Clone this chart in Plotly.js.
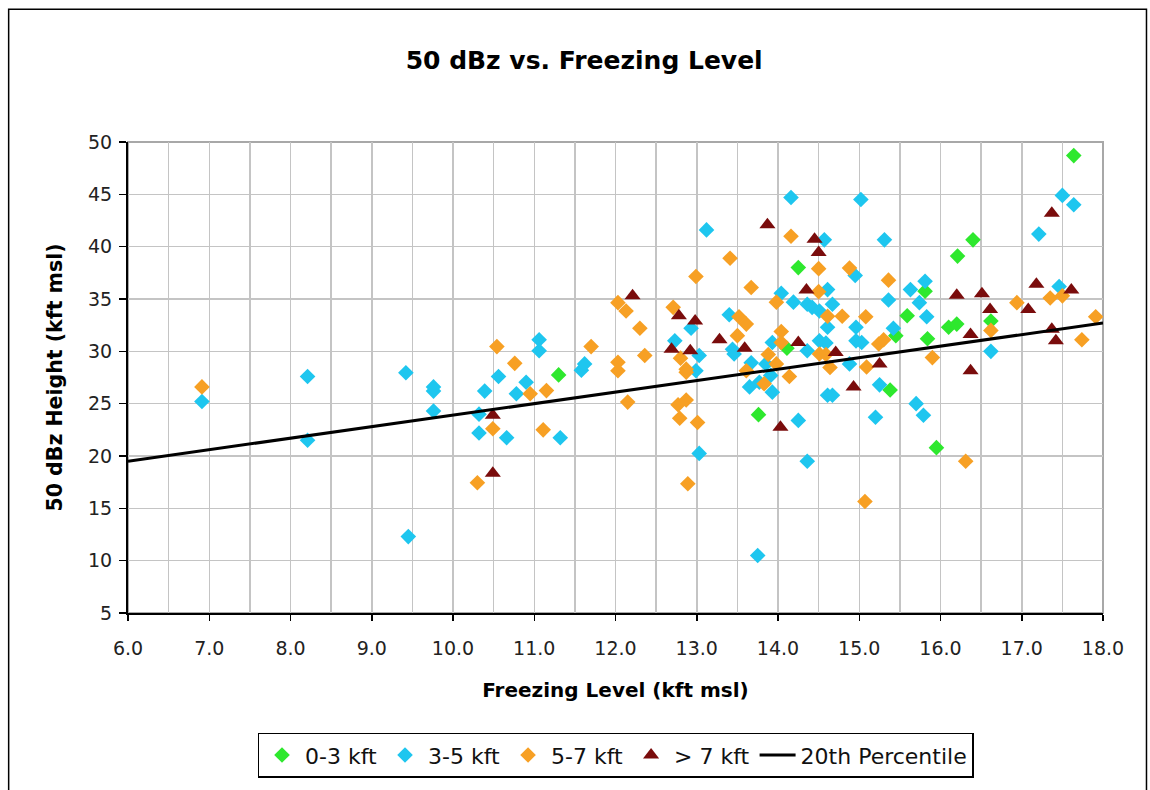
<!DOCTYPE html>
<html>
<head>
<meta charset="utf-8">
<script src="https://cdn.plot.ly/plotly-3.0.1.min.js"></script>
<style>
  html, body { margin: 0; padding: 0; background: #fff; }
  #chart { width: 1150px; height: 790px; }
</style>
</head>
<body>
<div id="chart"></div>
<script>
// ---- Data ----
const seriesNames = ["0-3 kft", "3-5 kft", "5-7 kft", "> 7 kft", "20th Percentile"];

const green_x = [11.30, 13.76, 14.11, 14.25, 15.38, 15.45, 15.59, 15.81, 15.84, 15.95, 16.10, 16.20, 16.21, 16.40, 16.62, 17.64];
const green_y = [27.75, 23.95, 30.3, 38.0, 26.3, 31.5, 33.4, 35.75, 31.2, 20.8, 32.3, 32.6, 39.1, 40.65, 32.9, 48.7];

const blue_x = [6.91, 8.21, 8.21, 9.42, 9.45, 9.76, 9.76, 9.76, 10.32, 10.32, 10.39, 10.56, 10.66, 10.78, 10.90,
  11.06, 11.06, 11.32, 11.58, 11.62, 12.73, 12.93, 12.99, 13.03, 13.03, 13.12, 13.40, 13.44, 13.46, 13.65,
  13.67, 13.75, 13.77, 13.85, 13.91, 13.93, 13.93, 14.04, 14.16, 14.19, 14.25, 14.36, 14.36, 14.36, 14.42,
  14.51, 14.51, 14.57, 14.59, 14.61, 14.61, 14.61, 14.67, 14.67, 14.88, 14.95, 14.96, 14.96, 15.02, 15.03,
  15.20, 15.25, 15.31, 15.36, 15.42, 15.63, 15.70, 15.74, 15.79, 15.81, 15.83, 16.62, 17.21, 17.46, 17.50, 17.64];
const blue_y = [25.2, 27.6, 21.5, 27.95, 12.3, 26.2, 26.6, 24.3, 24.0, 22.2, 26.2, 27.6, 21.75, 25.95, 27.05,
  31.1, 30.05, 21.75, 28.2, 28.8, 31.0, 32.2, 28.15, 29.6, 20.25, 41.6, 33.5, 30.2, 29.75, 26.6,
  28.9, 10.5, 27.05, 28.8, 27.7, 30.85, 26.1, 35.55, 44.7, 34.7, 23.4, 34.5, 30.05, 19.5, 34.2,
  33.85, 31.0, 40.65, 30.8, 35.9, 32.3, 25.8, 34.5, 25.8, 28.8, 37.25, 32.3, 31.0, 44.5, 30.85,
  23.7, 26.8, 40.65, 34.9, 32.2, 35.9, 25.0, 34.65, 23.9, 36.7, 33.3, 30.0, 41.2, 36.2, 44.9, 44.0];

const orange_x = [6.91, 10.30, 10.49, 10.54, 10.76, 10.95, 11.11, 11.15, 11.70, 12.03, 12.03, 12.03, 12.13, 12.15,
  12.30, 12.36, 12.71, 12.77, 12.79, 12.80, 12.87, 12.87, 12.87, 12.89, 12.99, 13.01, 13.41, 13.50, 13.52,
  13.61, 13.61, 13.67, 13.83, 13.88, 13.98, 13.98, 14.04, 14.04, 14.14, 14.16, 14.50, 14.50, 14.51, 14.59,
  14.61, 14.64, 14.79, 14.88, 15.07, 15.08, 15.09, 15.24, 15.30, 15.36, 15.90, 16.31, 16.62, 16.94, 17.35,
  17.50, 17.74, 17.91];
const orange_y = [26.6, 17.45, 22.6, 30.45, 28.85, 25.95, 22.5, 26.25, 30.45, 34.65, 28.95, 28.15, 33.85, 25.15,
  32.2, 29.6, 34.2, 24.9, 23.6, 29.35, 28.3, 28.0, 25.35, 17.35, 37.15, 23.2, 38.9, 31.5, 33.3,
  32.6, 28.15, 36.1, 26.9, 29.7, 34.7, 28.8, 31.9, 30.85, 27.6, 41.0, 37.9, 35.7, 29.75, 29.7,
  33.35, 28.45, 33.35, 37.95, 15.65, 33.3, 28.5, 30.7, 31.1, 36.8, 29.4, 19.5, 32.0, 34.65, 35.1,
  35.3, 31.1, 33.3];

const maroon_x = [10.49, 10.49, 12.21, 12.69, 12.78, 12.92, 12.98, 13.28, 13.59, 13.87, 14.03, 14.25, 14.35, 14.45,
  14.50, 14.71, 14.93, 15.25, 16.20, 16.37, 16.37, 16.51, 16.61, 17.08, 17.18, 17.37, 17.37, 17.42, 17.61];
const maroon_y = [23.9, 18.35, 35.3, 30.2, 33.4, 30.05, 32.9, 31.1, 30.3, 42.1, 22.75, 30.85, 35.85, 40.7,
  39.45, 29.9, 26.6, 28.8, 35.35, 31.6, 28.15, 35.5, 34.0, 34.0, 36.4, 43.2, 32.1, 31.0, 35.85];

const pct_x = [6.0, 18.0];
const pct_y = [19.5, 32.7];

const xTickVals = [6, 7, 8, 9, 10, 11, 12, 13, 14, 15, 16, 17, 18];
const yTickVals = [5, 10, 15, 20, 25, 30, 35, 40, 45, 50];

// ---- Styling ----
const FONT = "DejaVu Sans, Liberation Sans, Arial, sans-serif";
const GRID = "#c4c4c4";

const traces = [
  { x: green_x, y: green_y, name: seriesNames[0], type: "scatter", mode: "markers",
    marker: { symbol: "diamond", size: 12, color: "#2ee82e" } },
  { x: blue_x, y: blue_y, name: seriesNames[1], type: "scatter", mode: "markers",
    marker: { symbol: "diamond", size: 12, color: "#1ec6ef" } },
  { x: orange_x, y: orange_y, name: seriesNames[2], type: "scatter", mode: "markers",
    marker: { symbol: "diamond", size: 12, color: "#f7a024" } },
  { x: maroon_x, y: maroon_y, name: seriesNames[3], type: "scatter", mode: "markers",
    marker: { symbol: "triangle-up", size: 14, color: "#7a0c0c" } },
  { x: pct_x, y: pct_y, name: seriesNames[4], type: "scatter", mode: "lines",
    line: { color: "#000", width: 3 } }
];

const layout = {
  width: 1150, height: 790,
  margin: { l: 127.5, r: 46.5, t: 141.7, b: 174.3, pad: 0 },
  paper_bgcolor: "#fff", plot_bgcolor: "#fff",
  font: { family: FONT, color: "#111", size: 19 },
  showlegend: true,
  title: {
    text: "<b>50 dBz vs. Freezing Level</b>",
    font: { family: FONT, size: 25, color: "#000" },
    xref: "container", x: 0.508, xanchor: "center",
    yref: "container", y: 0.924, yanchor: "middle"
  },
  xaxis: {
    range: [6, 18], tickvals: xTickVals, tickformat: ".1f",
    ticks: "outside", ticklen: 6, tickwidth: 1.5, tickcolor: "#000",
    ticklabelstandoff: 11,
    showline: true, linecolor: "#000", linewidth: 2,
    showgrid: true, gridcolor: GRID, gridwidth: 1.5,
    minor: { dtick: 0.5, tick0: 6, showgrid: true, gridcolor: GRID, gridwidth: 1.5, ticks: "" },
    zeroline: false,
    tickfont: { family: FONT, size: 19, color: "#222" },
    title: { text: "<b>Freezing Level (kft msl)</b>", font: { family: FONT, size: 20, color: "#000" }, standoff: 25 }
  },
  yaxis: {
    range: [5, 50], tickvals: yTickVals,
    ticks: "outside", ticklen: 7, tickwidth: 1.5, tickcolor: "#000",
    ticklabelstandoff: 3,
    showline: true, linecolor: "#000", linewidth: 2,
    showgrid: true, gridcolor: GRID, gridwidth: 1.5,
    zeroline: false,
    tickfont: { family: FONT, size: 19, color: "#222" },
    title: { text: "<b>50 dBz Height (kft msl)</b>", font: { family: FONT, size: 20.5, color: "#000" }, standoff: 20 }
  },
  legend: {
    orientation: "h", xref: "paper", x: 0.5, xanchor: "center",
    yref: "paper", y: -0.302, yanchor: "middle",
    bordercolor: "#000", borderwidth: 1.5, bgcolor: "#fff",
    font: { family: FONT, size: 22, color: "#111" },
    itemwidth: 36, tracegroupgap: 0
  },
  shapes: [
    { type: "rect", xref: "paper", yref: "paper", x0: 0, x1: 1, y0: 0, y1: 1,
      line: { color: "#a8a8a8", width: 2 }, layer: "below" },
    { type: "rect", xref: "paper", yref: "paper", x0: -0.1224, x1: 1.0446, y0: -0.40, y1: 1.282,
      line: { color: "#000", width: 1.5 }, layer: "below" }
  ]
};

Plotly.newPlot("chart", traces, layout, { staticPlot: true, displayModeBar: false });
</script>
</body>
</html>
